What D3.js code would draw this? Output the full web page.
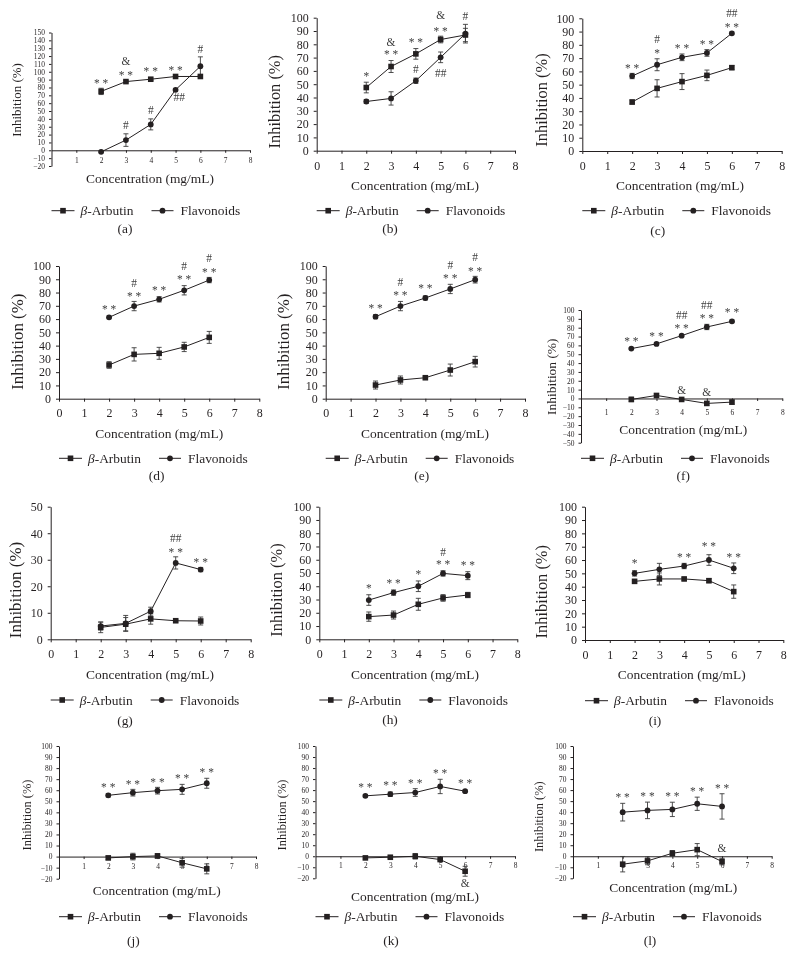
<!DOCTYPE html>
<html><head><meta charset="utf-8">
<script src="https://cdn.jsdelivr.net/npm/d3@7"></script>
<style>
body{margin:0;background:#fff;}
</style>
</head><body>
<svg id="chart" width="795" height="969"></svg>
<script>
// ---------------- DATA ----------------
const concentrations = [2, 3, 4, 5, 6];
const panelLabels = ["(a)","(b)","(c)","(d)","(e)","(f)","(g)","(h)","(i)","(j)","(k)","(l)"];
const seriesNames = ["β-Arbutin", "Flavonoids"];
const xTitle = "Concentration (mg/mL)";
const yTitle = "Inhibition (%)";
// y-axis tick ranges [min, max] (step 10)
const yTickRanges = [[-20,150],[0,100],[0,100],[0,100],[0,100],[-50,100],[0,50],[0,100],[0,100],[-20,100],[-20,100],[-20,100]];

const arbutinMean = [
  [75, 87.5, 90.5, 94, 94],
  [47.5, 63.3, 72.8, 83.6, 87],
  [36.9, 47.2, 52.3, 57, 62.8],
  [25.4, 33.4, 34.2, 39, 46.2],
  [10.3, 14.1, 15.8, 21.6, 27.9],
  [-1.1, 3.4, -1.1, -5.6, -4.1],
  [4.5, 5.7, 7.7, 7.0, 6.9],
  [17.1, 18.3, 26.4, 31.2, 33.4],
  [44, 45.8, 45.8, 44.5, 36.3],
  [-1.2, 0, 0.6, -5.6, -11.1],
  [-1.5, -0.9, 0, -3, -13.6],
  [-7.2, -4.2, 2.7, 6, -4.8]
];
const arbutinSD = [
  [4, 1.5, 1.5, 1, 1],
  [4, 4.5, 4, 2.5, 5],
  [1.5, 6.5, 6, 4, 1.5],
  [2.5, 5, 4.5, 3.5, 4.5],
  [3, 3, 1, 4.5, 4],
  [2.5, 2, 1, 2, 2.5],
  [2, 2.5, 2, 0.5, 1.5],
  [3.5, 3, 4.5, 2.5, 2],
  [1, 4.5, 1, 1.5, 5],
  [1.5, 3, 2, 4, 4.5],
  [1, 1, 2.5, 1, 4.5],
  [7, 3.5, 2.5, 5.5, 3]
];
const flavonoidMean = [
  [-2, 13, 33, 77, 107],
  [37, 39.3, 52.6, 70.2, 88],
  [56.5, 65, 70.6, 73.9, 88.7],
  [61.3, 69.8, 74.9, 81.7, 89.4],
  [61.8, 69.8, 75.9, 82.7, 89.7],
  [56.4, 61.7, 71, 80.8, 87.2],
  [5.0, 6.0, 10.6, 28.8, 26.3],
  [29.6, 35.2, 40, 49.7, 48],
  [50, 53, 55.5, 60, 53.8],
  [55.4, 57.8, 59.6, 60.8, 66.3],
  [54.8, 56.3, 57.8, 63.3, 59],
  [40, 41.6, 42.5, 47.6, 45.2]
];
const flavonoidSD = [
  [1, 8, 7, 1.5, 12],
  [1.5, 5, 2, 4, 7],
  [2, 4.5, 2.5, 2.5, 1],
  [1, 3.5, 2, 3.5, 2],
  [1.5, 3.5, 1.5, 3.5, 2.5],
  [1, 1.5, 1, 3, 1.5],
  [1.5, 3, 1.5, 2.3, 0.8],
  [4, 2, 4, 2, 3],
  [2, 4.5, 2, 4, 4],
  [1.5, 3, 3, 4.5, 4.5],
  [1, 2, 3.5, 6.5, 1],
  [8, 7.5, 6.5, 6, 11.5]
];
// significance marks: [concentration, inhibition level, text]
const significance = [
  [[2,88,"* *"],[3,113.7,"&"],[3,98.7,"* *"],[4,103,"* *"],[5,105,"* *"],[6,128.6,"#"],[3,32.5,"#"],[4,51.7,"#"],[5.15,68,"##"]],
  [[2,57.4,"*"],[3,82,"&"],[3,74,"* *"],[4,82.7,"* *"],[5,102,"&"],[5,91.5,"* *"],[6,101.5,"#"],[4,61,"#"],[5,58.6,"##"]],
  [[2,64,"* *"],[3,84,"#"],[3,75,"*"],[4,79,"* *"],[5,82,"* *"],[6,104,"##"],[6,94.5,"* *"]],
  [[2,69,"* *"],[3,87.4,"#"],[3,78.6,"* *"],[4,83,"* *"],[5,100,"#"],[5,91.5,"* *"],[6,106,"#"],[6,97,"* *"]],
  [[2,69.8,"* *"],[3,88.2,"#"],[3,79.4,"* *"],[4,84.4,"* *"],[5,100.8,"#"],[5,92,"* *"],[6,106.5,"#"],[6,97.5,"* *"]],
  [[2,67,"* *"],[3,73,"* *"],[4,94.4,"##"],[4,82,"* *"],[5,105.6,"##"],[5,92.5,"* *"],[6,99.2,"* *"],[4,9,"&"],[5,7.5,"&"]],
  [[5,38,"##"],[5,33.7,"* *"],[6,29.9,"* *"]],
  [[2,39.7,"*"],[3,44,"* *"],[4,50.3,"*"],[5,66,"#"],[5,57.8,"* *"],[6,57.3,"* *"]],
  [[2,58.8,"*"],[4,63.3,"* *"],[5,71.8,"* *"],[6,63.3,"* *"]],
  [[2,64.8,"* *"],[3,66.9,"* *"],[4,68.7,"* *"],[5,72.3,"* *"],[6,77.7,"* *"]],
  [[2,64.8,"* *"],[3,66.3,"* *"],[4,68.4,"* *"],[5,76.8,"* *"],[6,67.8,"* *"],[6,-24.7,"&"]],
  [[2,55.1,"* *"],[3,56.6,"* *"],[4,56.6,"* *"],[5,60.8,"* *"],[6,63.3,"* *"],[6,7.5,"&"]]
];

// ---------------- LAYOUT ----------------
const layouts = [
  {x0:51.5, x8:250,   yt:32.5,  yb:166,   small:true,  xPad:5,   ytX:16,    ytY:100,   ytFs:13,   xtX:150,   xtY:178,   legY:210.7, labX:125,   labY:228},
  {x0:316.7,x8:515,   yt:17.7,  yb:150.7, small:false, xPad:7.5, ytX:274.3, ytY:101.7, ytFs:16.5, xtX:415,   xtY:185,   legY:210.7, labX:390,   labY:228.3},
  {x0:582.3,x8:781.7, yt:18.3,  yb:151,   small:false, xPad:7.5, ytX:541,   ytY:100,   ytFs:16.5, xtX:680,   xtY:185,   legY:210.7, labX:657.7, labY:230},
  {x0:59,   x8:259.3, yt:266,   yb:398.7, small:false, xPad:7,   ytX:16.7,  ytY:341.7, ytFs:17,   xtX:159.3, xtY:433.3, legY:458.3, labX:156.7, labY:475},
  {x0:325.7,x8:525,   yt:266,   yb:398.7, small:false, xPad:7,   ytX:283.3, ytY:341.7, ytFs:17,   xtX:425,   xtY:433.3, legY:458.3, labX:421.7, labY:475},
  {x0:581,  x8:782.3, yt:310,   yb:442.7, small:true,  xPad:8.3, ytX:551,   ytY:376.7, ytFs:13.5, xtX:683.3, xtY:429.3, legY:458.3, labX:683.3, labY:475},
  {x0:50.7, x8:250.7, yt:506.7, yb:639.3, small:false, xPad:7.5, ytX:15,    ytY:590,   ytFs:17,   xtX:150,   xtY:674.3, legY:700,   labX:125,   labY:720},
  {x0:319.3,x8:517.3, yt:506.7, yb:639.3, small:false, xPad:7.5, ytX:276,   ytY:590,   ytFs:16.5, xtX:415,   xtY:674.3, legY:700,   labX:390,   labY:719.3},
  {x0:585,  x8:783.3, yt:506.7, yb:640,   small:false, xPad:7.5, ytX:541.7, ytY:591.7, ytFs:16.5, xtX:681.7, xtY:674.3, legY:700.7, labX:655,   labY:720},
  {x0:59,   x8:256,   yt:746,   yb:878.7, small:true,  xPad:4.3, ytX:26.7,  ytY:815,   ytFs:12.5, xtX:156.7, xtY:890.7, legY:916.7, labX:133.3, labY:940},
  {x0:315.5,x8:515,   yt:746,   yb:878.3, small:true,  xPad:4.3, ytX:281.7, ytY:815,   ytFs:12.5, xtX:415,   xtY:896.7, legY:916.7, labX:391,   labY:940},
  {x0:573,  x8:771.7, yt:746,   yb:878.3, small:true,  xPad:4.3, ytX:538.3, ytY:816.7, ytFs:12.5, xtX:673.3, xtY:887.3, legY:916.7, labX:650,   labY:940.7}
];

// ---------------- FONT PICK ----------------
const ctx = document.createElement("canvas").getContext("2d");
function fontExists(name) {
  const s = "Concentration mg/mL WwIi 0123456789";
  for (const base of ["monospace", "sans-serif"]) {
    ctx.font = `40px ${base}`; const a = ctx.measureText(s).width;
    ctx.font = `40px "${name}", ${base}`; const b = ctx.measureText(s).width;
    if (Math.abs(a - b) > 0.5) return true;
  }
  return false;
}
const candidates = ["Liberation Serif", "Tinos", "Times New Roman", "Nimbus Roman", "FreeSerif", "Noto Serif", "DejaVu Serif"];
const FONT = candidates.find(fontExists) || "serif";
ctx.font = `13.5px "${FONT}", serif`;
let FS = 128 / ctx.measureText(xTitle).width;
FS = Math.max(0.75, Math.min(1.15, FS));
const fs = v => v * FS;

const INK = "#231f20";
const svg = d3.select("#chart").style("font-family", `"${FONT}", serif`);
svg.append("rect").attr("width",795).attr("height",969).attr("fill","#fff");

function drawMarker(g, type, cx, cy) {
  if (type === 0) {
    g.append("rect").attr("x", cx-2.8).attr("y", cy-2.8).attr("width",5.6).attr("height",5.6).attr("fill",INK);
  } else {
    g.append("circle").attr("cx", cx).attr("cy", cy).attr("r", 2.9).attr("fill",INK);
  }
}

layouts.forEach((L, i) => {
  // opacity slightly below 1 gives grayscale text antialiasing (no colour fringes)
  const g = svg.append("g").attr("font-family", `"${FONT}", serif`).attr("fill", INK).attr("opacity", 0.995);
  const gt = g;
  const [ymin, ymax] = yTickRanges[i];
  const x = d3.scaleLinear().domain([0, 8]).range([L.x0, L.x8]);
  const y = d3.scaleLinear().domain([ymin, ymax]).range([L.yb, L.yt]);
  const tickFs = fs(L.small ? 7.5 : 12);

  // y axis
  const yAxis = d3.axisLeft(y).tickValues(d3.range(ymin, ymax + 1, 10))
    .tickSize(L.small ? 2.5 : 3).tickSizeOuter(0).tickPadding(L.small ? 4 : 5)
    .tickFormat(d3.format("d"));
  const ya = g.append("g").attr("transform", `translate(${L.x0},0)`).call(yAxis)
    .attr("font-family", `"${FONT}", serif`).attr("font-size", tickFs);
  ya.select(".domain").attr("stroke", INK);
  ya.selectAll(".tick line").attr("stroke", INK);
  ya.selectAll(".tick text").attr("fill", INK);

  // x axis
  const xVals = L.small ? d3.range(1, 9) : d3.range(0, 9);
  const xAxis = d3.axisBottom(x).tickValues(xVals).tickSize(L.small ? 2.5 : 3).tickSizeOuter(0).tickPadding(L.xPad);
  const xa = g.append("g").attr("transform", `translate(0,${y(Math.max(0, ymin))})`).call(xAxis)
    .attr("font-family", `"${FONT}", serif`).attr("font-size", tickFs);
  xa.select(".domain").attr("stroke", INK);
  xa.selectAll(".tick line").attr("stroke", INK);
  xa.selectAll(".tick text").attr("fill", INK);

  // titles
  gt.append("text").attr("x", L.xtX).attr("y", L.xtY).attr("dy","0.35em")
    .attr("text-anchor","middle").attr("font-size",fs(13.5)).text(xTitle);
  gt.append("text").attr("transform", `translate(${L.ytX},${L.ytY}) rotate(-90)`).attr("dy","0.35em")
    .attr("text-anchor","middle").attr("font-size",fs(L.ytFs)).text(yTitle);

  // series
  const seriesMeans = [arbutinMean[i], flavonoidMean[i]];
  const seriesSD = [arbutinSD[i], flavonoidSD[i]];
  const line = d3.line().x(d => x(d[0])).y(d => y(d[1]));
  seriesMeans.forEach((vals) => {
    g.append("path").datum(concentrations.map((c, k) => [c, vals[k]]))
      .attr("d", line).attr("fill","none").attr("stroke", INK).attr("stroke-width", 1);
  });
  seriesMeans.forEach((vals, s) => {
    concentrations.forEach((c, k) => {
      const cx = x(c), v = vals[k], e = seriesSD[s][k];
      const y1 = y(v + e), y2 = y(v - e);
      g.append("line").attr("x1",cx).attr("x2",cx).attr("y1",y1).attr("y2",y2).attr("stroke","#3a3a3a").attr("stroke-width",0.9);
      [y1, y2].forEach(yy => g.append("line").attr("x1",cx-2.5).attr("x2",cx+2.5).attr("y1",yy).attr("y2",yy).attr("stroke","#3a3a3a").attr("stroke-width",0.9));
    });
  });
  seriesMeans.forEach((vals, s) => {
    concentrations.forEach((c, k) => drawMarker(g, s, x(c), y(vals[k])));
  });

  // significance marks
  significance[i].forEach(([c, v, t]) => {
    const f = fs(11.5);
    const off = t.includes("*") ? 0.5 : 0.34;
    gt.append("text").attr("x", x(c)).attr("y", y(v) + off * f)
      .attr("text-anchor","middle").attr("font-size", f).attr("fill","#3d3d3d").text(t);
  });

  // legend
  const lx = L.x0, ly = L.legY;
  [[0, lx, lx+23, lx+29], [1, lx+100, lx+122, lx+129]].forEach(([s, a, b, tx]) => {
    g.append("line").attr("x1",a).attr("x2",b).attr("y1",ly).attr("y2",ly).attr("stroke",INK).attr("stroke-width",1);
    drawMarker(g, s, (a+b)/2, ly);
    const t = gt.append("text").attr("x", tx).attr("y", ly).attr("dy","0.35em").attr("font-size",fs(13.5));
    if (s === 0) {
      t.append("tspan").attr("font-style","italic").text(seriesNames[0].slice(0,1));
      t.append("tspan").text(seriesNames[0].slice(1));
    } else {
      t.text(seriesNames[1]);
    }
  });

  // panel label
  gt.append("text").attr("x", L.labX).attr("y", L.labY).attr("dy","0.35em")
    .attr("text-anchor","middle").attr("font-size",fs(13.5)).text(panelLabels[i]);
});
</script>
</body></html>
